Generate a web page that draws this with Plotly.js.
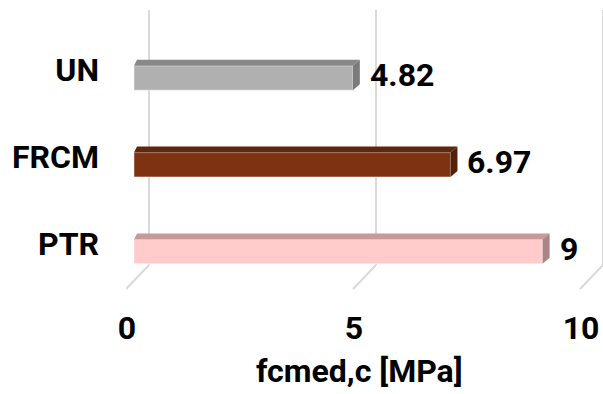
<!DOCTYPE html>
<html>
<head>
<meta charset="utf-8">
<script src="https://cdn.plot.ly/plotly-3.0.1.min.js"></script>
<style>html,body{margin:0;padding:0;background:#fff;}#chart{width:603px;height:394px;}</style>
</head>
<body>
<div id="chart"></div>
<script>
// ---- data ----
var categories = ["PTR", "FRCM", "UN"];
var values = [9, 6.97, 4.82];
var frontColors = ["#ffcbcb", "#7e3212", "#b0b0b0"];
var topColors = ["#c49a9a", "#62260c", "#888888"];
var sideColors = ["#a98585", "#55200a", "#7b7b7b"];
var xTickVals = [0, 5, 10];
var xTitle = "fcmed,c [MPa]";

// ---- layout constants ----
var W = 603, H = 394;
var mL = 126, mR = 0, mT = 10, mB = 105;
var xRange = [-0.176, 10.33];
var yRange = [-0.432, 2.784];
var plotW = W - mL - mR, plotH = H - mT - mB;
var pxX = plotW / (xRange[1] - xRange[0]);
var pxY = plotH / (yRange[1] - yRange[0]);
var barW = 0.28;
var dxR = 7 / pxX, dxL = 3 / pxX, dy = 6 / pxY;

var yIdx = categories.map(function (c, i) { return i; });
var font = {family: "Roboto, 'Liberation Sans', Arial, sans-serif", size: 32, color: "#000", weight: "bold"};

var trace = {
  type: "bar", orientation: "h",
  x: values, y: yIdx, width: barW,
  marker: {color: frontColors, line: {color: "rgba(255,255,255,0.45)", width: 1}},
  hoverinfo: "none"
};

var shapes = [];
// back-wall gridlines + floor diagonals
var floorFrac = (289 - 265) / plotH;
xTickVals.forEach(function (v) {
  shapes.push({type: "line", layer: "below", xref: "x", xsizemode: "pixel", xanchor: v,
    x0: 15, x1: 15, yref: "paper", y0: 1, y1: floorFrac,
    line: {color: "#d9d9d9", width: 2}});
  shapes.push({type: "line", layer: "below", xref: "x", xsizemode: "pixel", xanchor: v,
    x0: 15, x1: -8, yref: "paper", y0: floorFrac, y1: 0,
    line: {color: "#d9d9d9", width: 2}});
});
// 3D top and side faces
values.forEach(function (v, i) {
  var yt = yIdx[i] + barW / 2, yb = yIdx[i] - barW / 2;
  shapes.push({type: "path", layer: "above", xref: "x", yref: "y",
    path: "M0," + yt + " L" + v + "," + yt + " L" + (v + dxR) + "," + (yt + dy) + " L" + dxL + "," + (yt + dy) + " Z",
    fillcolor: topColors[i], line: {width: 0}});
  shapes.push({type: "path", layer: "above", xref: "x", yref: "y",
    path: "M" + v + "," + yb + " L" + v + "," + yt + " L" + (v + dxR) + "," + (yt + dy) + " L" + (v + dxR) + "," + (yb + dy) + " Z",
    fillcolor: sideColors[i], line: {width: 0}});
});

var annotations = values.map(function (v, i) {
  return {x: v, y: yIdx[i], xref: "x", yref: "y", text: String(v), showarrow: false,
    xanchor: "left", yanchor: "middle", xshift: 15, yshift: 3, font: font};
});
annotations.push({x: (359 - mL) / plotW, y: -(371 - (H - mB)) / plotH, xref: "paper", yref: "paper",
  text: xTitle, showarrow: false, xanchor: "center", yanchor: "middle", font: font});

var layout = {
  width: W, height: H,
  margin: {l: mL, r: mR, t: mT, b: mB, pad: 0},
  paper_bgcolor: "#fff", plot_bgcolor: "rgba(0,0,0,0)",
  showlegend: false,
  xaxis: {range: xRange, tickvals: xTickVals, ticktext: xTickVals.map(String),
    showgrid: false, zeroline: false, showline: false, ticks: "",
    tickfont: font, ticklabelshift: -7, ticklabelstandoff: 17, fixedrange: true},
  yaxis: {range: yRange, tickvals: yIdx, ticktext: categories,
    showgrid: false, zeroline: false, showline: false, ticks: "",
    tickfont: font, ticklabelshift: -8, ticklabelstandoff: 26, fixedrange: true},
  shapes: shapes,
  annotations: annotations
};

Plotly.newPlot("chart", [trace], layout, {displayModeBar: false, staticPlot: true});
</script>
</body>
</html>
